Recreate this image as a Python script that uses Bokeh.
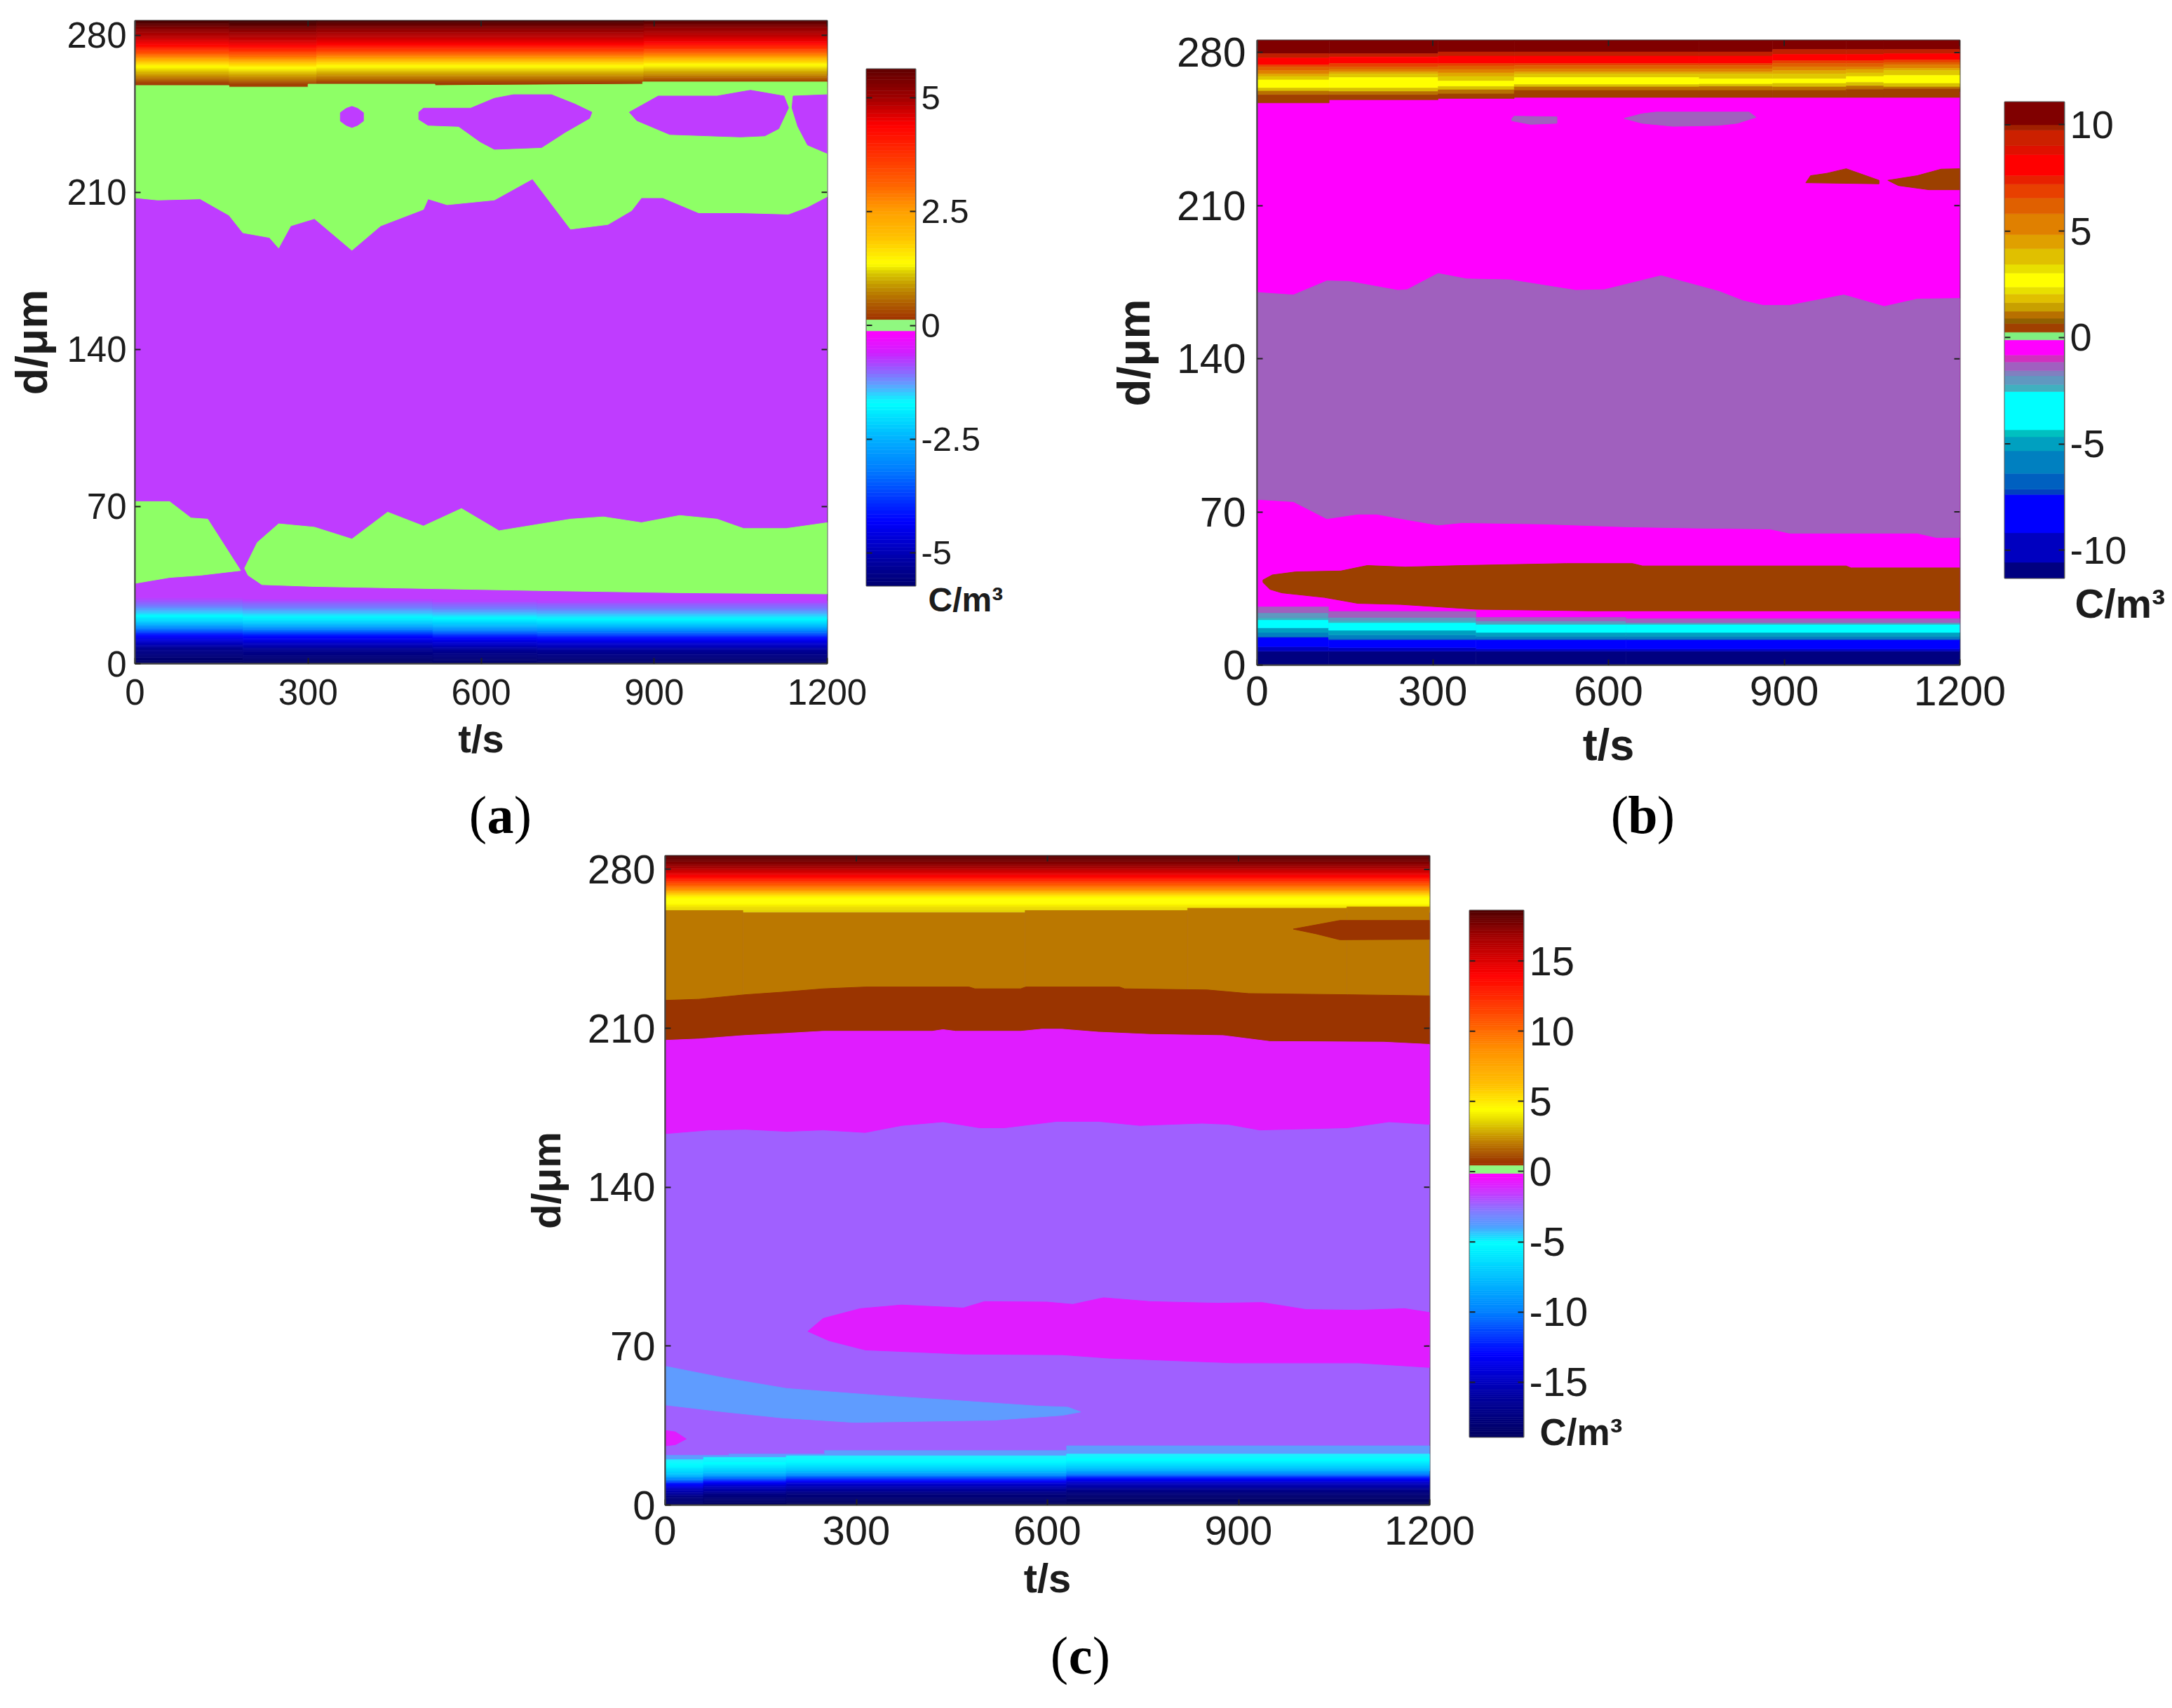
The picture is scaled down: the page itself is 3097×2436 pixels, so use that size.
from bokeh.plotting import figure
from bokeh.models import Range1d, FixedTicker
from bokeh.core.properties import value
from bokeh.embed import file_html
from bokeh.resources import INLINE

# ---------- shared ----------
t_ticks = [0, 300, 600, 900, 1200]
d_ticks = [0, 70, 140, 210, 280]
FONT = "Liberation Sans"
SERIF = "Liberation Serif"
INK = "#1c1c1c"
unit_text = "C/m³"

# ---------- panel (a) ----------
a_violet = "#BF3CFF"
a_green = "#8EFF66"
a_top_d = [256, 258.7, 260.5, 263.5, 266, 269.6, 271.6, 275.8, 279, 282.5, 286.7, 290]
a_top_c = ["#a04000", "#a04000", "#b87000", "#d8b400", "#ffff00", "#ffa000", "#ff6000", "#ff0000",
           "#c00000", "#900000", "#400000", "#300000"]
a_top_seg = [0, 163, 315, 882, 1200]
a_top_shift = [0.0, -0.5, 0.2, 0.8]
a_bot_d = [-2, 0, 6, 11.8, 15, 17.5, 20.7, 22.7, 24.8, 26.9, 28.5]
a_bot_c = ["#000060", "#000068", "#000090", "#0000ff", "#0080ff", "#00c0ff", "#00ffff", "#40c0ff",
           "#7080ff", "#9060ff", "#BF3CFF"]
a_bot_seg = [0, 187, 516, 697, 1200]
a_bot_shift = [0.7, 0.2, -0.2, -0.5]

a_green_top_t = [0, 163, 163, 300, 300, 520, 520, 880, 880, 1200]
a_green_top_d = [257.6, 257.6, 256.9, 256.9, 258.2, 258.2, 257.6, 258.2, 259.2, 259.2]
a_upper_t = [0, 39, 113, 163, 187, 233, 249, 270, 311, 376, 426, 500, 508, 541, 623, 689, 755, 820, 861,
             878, 915, 977, 1050, 1133, 1166, 1200]
a_upper_d = [207.6, 206.6, 207.1, 199.8, 192, 189.9, 185.2, 195.1, 198.3, 184.2, 195.1, 202.4, 207.1, 204.5,
             206.6, 216, 193.6, 195.7, 201.9, 207.6, 207.6, 200.9, 200.9, 200.3, 203.5, 208.1]
a_blob1_t = [376, 386, 396, 396, 386, 376, 366, 356, 356, 366]
a_blob1_d = [248.3, 247.4, 245.5, 241.8, 239.9, 238.9, 239.9, 241.8, 245.5, 247.4]
a_blob2_t = [492, 500, 582, 623, 656, 722, 763, 792, 788, 746, 705, 623, 598, 561, 508, 492]
a_blob2_d = [245.7, 247.5, 247.5, 251.9, 253.5, 253.5, 249.3, 245.7, 243, 236.8, 230, 229.2, 232.6, 239.4,
             239.9, 242.5]
a_blob3_t = [857, 907, 1009, 1067, 1125, 1133, 1116, 1092, 1050, 927, 870]
a_blob3_d = [245.7, 252.9, 252.9, 255.5, 252.9, 247.7, 238.4, 235.2, 234.7, 235.8, 242]
a_blob4_t = [1141, 1200, 1200, 1166, 1149, 1139]
a_blob4_d = [252.9, 253.5, 227.4, 231.1, 239.4, 247.7]
a_low1_t = [0, 60, 97, 126, 183, 113, 60, 0]
a_low1_d = [72.2, 72.2, 64.9, 64.4, 41.5, 39.4, 38.4, 35.8]
a_low2_t = [190, 212, 249, 311, 376, 438, 500, 566, 631, 755, 812, 878, 944, 1009, 1055, 1129, 1200,
            1200, 944, 697, 520, 311, 220, 196]
a_low2_d = [42.5, 54, 62.3, 60.8, 55.5, 67.5, 61.3, 69.1, 59.2, 64.4, 65.4, 62.8, 66, 64.4, 60.2, 60.2, 62.8,
            31.1, 31.6, 32.6, 33.4, 34.4, 35.2, 39.4]

cb_a_v = [-5.72, -5.2, -4.3, -3.13, -2.5, -1.7, -1.3, -0.9, -0.6, -0.12]
cb_a_c = ["#000070", "#0000a0", "#0000ff", "#0080ff", "#00b0ff", "#00ffff", "#60a0ff", "#a050ff", "#d020ff", "#ff00ff"]
cb_a_pv = [0.12, 0.5, 0.83, 1.15, 1.35, 1.95, 2.5, 3.13, 4.4, 5.0, 5.63]
cb_a_pc = ["#a03000", "#b06000", "#c09000", "#d8c800", "#ffff00", "#ffc000", "#ffa000", "#ff6000", "#ff0000", "#a00000", "#600000"]
cb_a_ticks = [-5, -2.5, 0, 2.5, 5]
cb_a_labels = ["-5", "-2.5", "0", "2.5", "5"]

# ---------- panel (b) ----------
b_magenta = "#FF00FF"
b_gray = "#A060BE"
b_brown = "#9C4000"
b_top_c = ["#800000", "#c02000", "#ff0000", "#e84000", "#e06000", "#e08000", "#e0a800", "#e0c800", "#ffff00",
           "#d8c000", "#b87000", "#a04000"]
b_top_seg = [0, 123, 309, 439, 755, 880, 1006, 1070, 1200]
b_top_edges = [
    [279.5, 277.6, 274.4, 273.4, 271.8, 270.2, 269.1, 267.5, 263.8, 262.4, 260.6, 257.0],
    [279.5, 278.0, 275.0, 273.4, 272.3, 271.2, 270.2, 268.6, 263.8, 262.2, 260.6, 258.4],
    [280.3, 278.4, 275.0, 273.9, 272.3, 270.7, 269.1, 267.0, 264.5, 263.0, 261.1, 259.0],
    [280.3, 278.4, 275.0, 274.1, 272.6, 271.2, 270.2, 268.6, 265.4, 264.3, 262.7, 259.5],
    [280.3, 278.4, 275.0, 274.1, 272.6, 271.2, 270.2, 268.0, 265.6, 264.5, 262.7, 259.5],
    [281.4, 279.2, 276.3, 275.0, 273.4, 271.8, 270.2, 268.0, 265.9, 264.3, 262.7, 259.5],
    [281.4, 279.2, 276.3, 275.0, 273.4, 272.3, 270.7, 269.1, 266.4, 264.8, 263.2, 259.5],
    [281.4, 279.5, 276.6, 275.5, 274.4, 272.8, 271.8, 269.6, 265.9, 264.3, 263.4, 259.5],
]
b_bot_c = ["#000080", "#0000c0", "#0000ff", "#0060c0", "#0080c0", "#00a0c0", "#00ffff", "#40b0c0", "#6098c0", "#A060BE"]
b_bot_seg = [0, 122, 374, 630, 1200]
b_bot_edges = [
    [6.3, 8.4, 12.7, 13.2, 14.9, 17.0, 20.7, 21.8, 23.9, 26.6],
    [6.3, 7.9, 11.6, 12.2, 13.8, 15.9, 19.4, 20.5, 21.8, 24.5],
    [6.3, 7.4, 11.6, 12.2, 13.2, 14.9, 18.6, 19.1, 20.2, 21.8],
    [6.3, 7.4, 11.6, 12.2, 13.2, 14.9, 18.6, 19.1, 19.4, 21.2],
]
b_upper_t = [0, 62, 119, 156, 240, 256, 309, 358, 431, 544, 593, 690, 789, 830, 864, 909, 1002, 1071, 1127, 1200]
b_upper_d = [170.3, 169.2, 175.6, 175.4, 171.3, 171.6, 179, 176.5, 176.1, 171.3, 171.6, 178, 170.8, 166.5, 164.4,
             164.4, 169.2, 163.9, 167.3, 167.6]
b_lower_t = [0, 62, 119, 172, 204, 240, 309, 350, 487, 629, 755, 876, 909, 1127, 1160, 1200]
b_lower_d = [75.75, 74.7, 66.9, 69, 69, 67.2, 64, 65.1, 64.5, 63.2, 62.6, 62.2, 60.3, 60.3, 58.3, 58.3]
b_band_up_t = [10, 26, 66, 143, 188, 253, 350, 528, 641, 658, 1006, 1014, 1200]
b_band_up_d = [38.9, 41.2, 42.6, 43, 45.5, 44.8, 45.5, 46.4, 46.4, 45.3, 45.3, 44.4, 44.4]
b_band_lo_t = [10, 22, 42, 115, 172, 245, 374, 568, 1200]
b_band_lo_d = [37.8, 34.6, 33, 30.9, 28.2, 27.7, 25.5, 24.8, 24.8]
b_gb1_t = [435, 439, 512, 512, 467, 435]
b_gb1_d = [249.9, 250.9, 250.6, 247.7, 247.2, 248.8]
b_gb2_t = [627, 657, 682, 840, 852, 820, 787, 710, 657]
b_gb2_d = [249.9, 252, 252.8, 252.8, 250.4, 247.7, 246.7, 246.3, 247.7]
b_bb1_t = [937, 945, 973, 1006, 1062, 1062]
b_bb1_d = [220.5, 223.7, 224.8, 226.9, 221.6, 220]
b_bb2_t = [1077, 1127, 1168, 1200, 1200, 1147, 1095]
b_bb2_d = [221.6, 223.7, 226.7, 226.9, 217.3, 217.3, 219.2]

cb_b_edges = [-11.31, -10.57, -9.18, -7.38, -7.13, -6.39, -5.33, -4.67, -4.34, -2.54, -2.21, -1.8, -1.56, -1.15, -0.82,
              -0.11, 0.25, 0.66, 0.9, 1.23, 1.64, 2.05, 2.38, 3.03, 3.44, 4.18, 4.84, 5.82, 6.56, 7.21, 7.62, 8.6, 9.02,
              9.75, 10, 11.07]
cb_b_colors = ["#000080", "#0000c0", "#0000ff", "#0040c0", "#0060c0", "#0080c0", "#00a0c0", "#00c0c0", "#00ffff",
               "#40b0c0", "#6098c0", "#8080c0", "#a060c0", "#d030c0", "#ff00ff", "#80f080", "#a04000", "#906000",
               "#b87000", "#c8a000", "#e0c000", "#e8e000", "#ffff00", "#e8e000", "#e0c000", "#e0a000", "#e08000",
               "#e06000", "#e84000", "#e82000", "#ff0000", "#e01000", "#cc2000", "#a02000", "#800000"]
cb_b_ticks = [-10, -5, 0, 5, 10]
cb_b_labels = ["-10", "-5", "0", "5", "10"]

# ---------- panel (c) ----------
c_violet = "#A060FF"
c_magenta = "#E01CFF"
c_gold = "#BB7800"
c_brown = "#9A3400"
c_blue = "#5F9CFF"
c_top_d = [261, 263.5, 265, 267.6, 271.7, 276.9, 282, 286.5, 290]
c_top_c = ["#e0d000", "#f0e000", "#ffff00", "#ffff00", "#ff8000", "#ff0000", "#900000", "#500000", "#400000"]
c_bot_d = [-2, 0, 6, 9.6, 11.6, 13.7, 15.8, 19.9, 22.5]
c_bot_c = ["#000050", "#000058", "#000080", "#0000c0", "#0000ff", "#0080ff", "#00c0ff", "#00ffff", "#20f0ff"]
c_bot_seg = [0, 60, 190, 630, 1200]
c_bot_shift = [-2.5, -1.5, -0.8, 0.0]
c_blue_seg = [0, 100, 250, 630, 1200]
c_blue_top = [21.9, 22.5, 24.0, 26.1]
c_gold_seg = [0, 122, 565, 820, 1070, 1200]
c_gold_top = [261.9, 260.9, 261.9, 262.9, 263.5]
c_gl_t = [0, 53, 126, 183, 248, 314, 477, 486, 558, 566, 713, 721, 851, 916, 1071, 1200]
c_gl_d = [222.3, 222.8, 224.8, 225.9, 227.4, 228.2, 228.2, 227.4, 227.4, 228.2, 228.2, 227.4, 226.9, 225.3, 224.8, 224.3]
c_bl_t = [0, 53, 122, 191, 248, 419, 436, 456, 558, 591, 623, 680, 762, 876, 949, 1128, 1200]
c_bl_d = [204.7, 205.3, 206.8, 207.8, 208.7, 208.7, 209.4, 208.7, 208.7, 209.6, 209.6, 208.3, 207.3, 206.8, 204.2, 203.9, 202.9]
c_mv_t = [0, 69, 126, 191, 248, 314, 371, 436, 493, 533, 615, 680, 745, 843, 884, 933, 1071, 1136, 1200]
c_mv_d = [163.6, 165.2, 165.5, 164.6, 165.2, 164.1, 167.2, 168.8, 166.2, 166.2, 169, 169, 167.2, 168.2, 167.7, 165.2,
          166.2, 168.8, 167.7]
c_tip_t = [986, 1059, 1200, 1200, 1059, 1022]
c_tip_d = [253.7, 257.5, 257.5, 249.2, 249, 251.6]
c_lobe_t = [224, 248, 306, 371, 468, 501, 599, 640, 688, 762, 868, 937, 1006, 1088, 1161, 1200, 1200, 1088, 892, 696,
            623, 468, 314, 257]
c_lobe_d = [76.5, 82.2, 86.5, 88.1, 86.8, 89.6, 89.4, 88.4, 91.3, 89.6, 88.9, 89.2, 86.1, 85.8, 86.5, 84.8, 60.6, 62.6,
            62.6, 64.7, 66.2, 66.5, 68.3, 72.4]
c_tongue_t = [0, 94, 191, 338, 452, 583, 632, 652, 623, 517, 297, 183, 94, 0]
c_tongue_d = [61.1, 55.9, 51.3, 48.2, 46.1, 43.6, 43.1, 41, 39.5, 37.4, 36.4, 38.4, 41, 44.1]
c_spot_t = [0, 16, 33, 16, 0]
c_spot_d = [32.8, 32.2, 29.1, 26.6, 26.1]

cb_c_v = [-18.9, -16, -13, -10, -7.5, -5.06, -3.9, -2.9, -1.65, -0.13]
cb_c_c = ["#000060", "#0000a0", "#0000ff", "#0080ff", "#00c0ff", "#00ffff", "#50a0ff", "#8080ff", "#c040ff", "#ff00ff"]
cb_c_pv = [0.43, 0.9, 2.15, 3.5, 4.4, 6.2, 8.7, 11, 14, 16.8, 18.6]
cb_c_pc = ["#a03000", "#a04000", "#c08000", "#e0d000", "#ffff00", "#ffc000", "#ff9000", "#ff5000", "#ff0000", "#a00000", "#500000"]
cb_c_ticks = [-15, -10, -5, 0, 5, 10, 15]
cb_c_labels = ["-15", "-10", "-5", "0", "5", "10", "15"]
cb_green = "#90F880"


# ---------- helpers ----------
def hex2rgb(h):
    return [int(h[i:i + 2], 16) for i in (1, 3, 5)]


def ramp_bands(vals, cols, step):
    """Split a colour gradient given by its stops into thin flat bands (like a contour fill)."""
    out = []
    for i in range(len(vals) - 1):
        n = max(1, int(round((vals[i + 1] - vals[i]) / step)))
        c0, c1 = hex2rgb(cols[i]), hex2rgb(cols[i + 1])
        for k in range(n):
            f = (k + 0.5) / n
            col = "#%02x%02x%02x" % tuple(int(round(a + (b - a) * f)) for a, b in zip(c0, c1))
            out.append((vals[i] + (vals[i + 1] - vals[i]) * k / n, vals[i] + (vals[i + 1] - vals[i]) * (k + 1) / n, col))
    return out


def draw_quads(p, rows):
    left, right, bottom, top, color = zip(*rows)
    p.quad(left=list(left), right=list(right), bottom=list(bottom), top=list(top),
           fill_color=list(color), line_color=list(color), line_width=0.6)


def draw_ramp(p, seg, shifts, vals, cols, step=0.7):
    bands = ramp_bands(vals, cols, step)
    rows = []
    for i, s in enumerate(shifts):
        for lo, hi, c in bands:
            rows.append((seg[i], seg[i + 1], lo + s, hi + s, c))
    draw_quads(p, rows)


def panel(left, top, tmax_d, frame_w, frame_h, borders, tick_font, xlabel_font, ylabel_font, xstand, ystand):
    bl, br, bt, bb = borders
    p = figure(frame_width=frame_w, frame_height=frame_h, x_range=Range1d(0, 1200), y_range=Range1d(0, tmax_d),
               min_border_left=bl, min_border_right=br, min_border_top=bt, min_border_bottom=bb,
               toolbar_location=None, output_backend="svg", background_fill_color="white", border_fill_color=None,
               x_axis_label="t/s", y_axis_label="d/μm",
               styles={"position": "absolute", "left": f"{left}px", "top": f"{top}px"})
    p.grid.visible = False
    p.outline_line_color = "#444444"
    p.outline_line_width = 2
    p.xaxis.ticker = FixedTicker(ticks=t_ticks)
    p.yaxis.ticker = FixedTicker(ticks=d_ticks)
    for ax in (p.xaxis[0], p.yaxis[0]):
        ax.major_tick_in = 8
        ax.major_tick_out = 0
        ax.minor_tick_in = 0
        ax.minor_tick_out = 0
        ax.major_tick_line_color = "#222222"
        ax.major_tick_line_width = 2
        ax.axis_line_color = "#444444"
        ax.axis_line_width = 2
        ax.major_label_text_font = FONT
        ax.major_label_text_font_size = f"{tick_font}px"
        ax.major_label_text_color = INK
        ax.axis_label_text_font = FONT
        ax.axis_label_text_font_style = "bold"
        ax.axis_label_text_color = INK
    p.xaxis[0].axis_label_text_font_size = f"{xlabel_font}px"
    p.yaxis[0].axis_label_text_font_size = f"{ylabel_font}px"
    p.xaxis[0].major_label_standoff = xstand[0]
    p.xaxis[0].axis_label_standoff = xstand[1]
    p.yaxis[0].major_label_standoff = ystand[0]
    p.yaxis[0].axis_label_standoff = ystand[1]
    return p


def box_ticks(p, tmax_d, frame_w, frame_h):
    dt = 8 * 1200 / frame_w
    dd = 8 * tmax_d / frame_h
    p.segment(x0=t_ticks, x1=t_ticks, y0=[tmax_d] * 5, y1=[tmax_d - dd] * 5, line_color="#222222", line_width=2)
    p.segment(x0=[1200] * 5, x1=[1200 - dt] * 5, y0=d_ticks, y1=d_ticks, line_color="#222222", line_width=2)


def colorbar(left_px, top_px, vmin, vmax, frame_w, frame_h, borders, ticks, labels, font, standoff):
    bl, br, bt, bb = borders
    p = figure(frame_width=frame_w, frame_height=frame_h, x_range=Range1d(0, 1), y_range=Range1d(vmin, vmax),
               min_border_left=bl, min_border_right=br, min_border_top=bt, min_border_bottom=bb,
               toolbar_location=None, output_backend="svg", x_axis_location=None, y_axis_location="right",
               background_fill_color="white", border_fill_color=None,
               styles={"position": "absolute", "left": f"{left_px}px", "top": f"{top_px}px"})
    p.grid.visible = False
    p.outline_line_color = "#555555"
    p.outline_line_width = 2
    ax = p.yaxis[0]
    ax.ticker = FixedTicker(ticks=ticks)
    ax.major_label_overrides = {float(v): s for v, s in zip(ticks, labels)}
    ax.major_tick_in = 8
    ax.major_tick_out = 0
    ax.minor_tick_in = 0
    ax.minor_tick_out = 0
    ax.major_tick_line_color = "#222222"
    ax.major_tick_line_width = 2
    ax.axis_line_color = "#555555"
    ax.major_label_text_font = FONT
    ax.major_label_text_font_size = f"{font}px"
    ax.major_label_text_color = INK
    ax.major_label_standoff = standoff
    return p


def cb_left_ticks(p, ticks, frame_w):
    p.segment(x0=[0] * len(ticks), x1=[8 / frame_w] * len(ticks), y0=ticks, y1=ticks, line_color="#222222", line_width=2)


def text_box(left, top, w, h):
    """A bare little figure that only carries free-standing texts (its units are pixels)."""
    return figure(frame_width=w, frame_height=h, x_range=Range1d(0, w), y_range=Range1d(h, 0),
                  min_border=0, toolbar_location=None, output_backend="svg", x_axis_location=None, y_axis_location=None,
                  background_fill_color=None, border_fill_color=None, outline_line_color=None,
                  styles={"position": "absolute", "left": f"{left}px", "top": f"{top}px"})


def caption_box(cx, cy, letter, size, gap):
    p = text_box(cx - 70, cy - 60, 140, 120)
    p.grid.visible = False
    for txt, style, off in (("(", "normal", -gap), (letter, "bold", 0), (")", "normal", gap)):
        p.text(x=[70 + off], y=[60], text=[txt], text_font=value(SERIF), text_font_style=style,
               text_font_size=f"{size}px", text_color="#000000", text_align="center", text_baseline="middle")
    return p


def unit_box(x, cy, size):
    p = text_box(x - 2, cy - 60, 138, 120)
    p.grid.visible = False
    p.text(x=[2], y=[60], text=[unit_text], text_font=value(FONT), text_font_style="bold",
           text_font_size=f"{size}px", text_color=INK, text_align="left", text_baseline="middle")
    return p


def band_poly(p, color, tu, du, tl, dl):
    p.patch(list(tu) + list(tl)[::-1], list(du) + list(dl)[::-1], fill_color=color, line_color=color, line_width=1)


def blob(p, color, t, d):
    p.patch(t, d, fill_color=color, line_color=color, line_width=1)


# ---------- figure (a) ----------
fa = panel(-32, 8, 286.5, 987, 917, (224, 70, 21, 254), 51, 56, 63, (22, 14), (12, 12))
draw_quads(fa, [(0, 1200, 20, 262, a_violet)])
draw_ramp(fa, a_bot_seg, a_bot_shift, a_bot_d, a_bot_c)
draw_ramp(fa, a_top_seg, a_top_shift, a_top_d, a_top_c)
band_poly(fa, a_green, a_green_top_t, a_green_top_d, a_upper_t, a_upper_d)
for t, d in ((a_blob1_t, a_blob1_d), (a_blob2_t, a_blob2_d), (a_blob3_t, a_blob3_d), (a_blob4_t, a_blob4_d)):
    blob(fa, a_violet, t, d)
blob(fa, a_green, a_low1_t, a_low1_d)
blob(fa, a_green, a_low2_t, a_low2_d)
box_ticks(fa, 286.5, 987, 917)
cap_a = caption_box(713, 1161, "a", 76, 32)

cba = colorbar(1200, 8, -5.72, 5.63, 70, 737, (35, 255, 90, 365), cb_a_ticks, cb_a_labels, 49, 8)
draw_ramp(cba, [0, 1], [0.0], cb_a_v, cb_a_c, step=0.08)
draw_ramp(cba, [0, 1], [0.0], cb_a_pv, cb_a_pc, step=0.08)
draw_quads(cba, [(0, 1, -0.12, 0.12, cb_green)])
cb_left_ticks(cba, cb_a_ticks, 70)
unit_a = unit_box(1323, 855, 48)

# ---------- figure (b) ----------
fb = panel(1560, 8, 285.6, 1002, 891, (232, 70, 49, 252), 59, 63, 64, (16, 18), (16, 22))
draw_quads(fb, [(0, 1200, 15, 262, b_magenta)])
rows = []
for i in range(len(b_top_seg) - 1):
    upper = 290
    for c, e in zip(b_top_c, b_top_edges[i]):
        rows.append((b_top_seg[i], b_top_seg[i + 1], e, upper, c))
        upper = e
draw_quads(fb, rows)
rows = []
for i in range(len(b_bot_seg) - 1):
    lower = -2
    for c, e in zip(b_bot_c, b_bot_edges[i]):
        rows.append((b_bot_seg[i], b_bot_seg[i + 1], lower, e, c))
        lower = e
draw_quads(fb, rows)
band_poly(fb, b_gray, b_upper_t, b_upper_d, b_lower_t, b_lower_d)
band_poly(fb, b_brown, b_band_up_t, b_band_up_d, b_band_lo_t, b_band_lo_d)
blob(fb, b_gray, b_gb1_t, b_gb1_d)
blob(fb, b_gray, b_gb2_t, b_gb2_d)
blob(fb, b_brown, b_bb1_t, b_bb1_d)
blob(fb, b_brown, b_bb2_t, b_bb2_d)
box_ticks(fb, 285.6, 1002, 891)
cap_b = caption_box(2342, 1161, "b", 76, 33)

cbb = colorbar(2820, 8, -11.31, 11.07, 85, 679, (38, 152, 137, 376), cb_b_ticks, cb_b_labels, 56, 8)
draw_quads(cbb, [(0, 1, cb_b_edges[i], cb_b_edges[i + 1], cb_b_colors[i]) for i in range(len(cb_b_colors))])
cb_left_ticks(cbb, cb_b_ticks, 85)
unit_b = unit_box(2958, 860, 58)

# ---------- figure (c) ----------
fc = panel(700, 1200, 286, 1090, 926, (248, 70, 20, 284), 58, 58, 58, (16, 12), (14, 24))
draw_quads(fc, [(0, 1200, 15, 262, c_violet)])
draw_quads(fc, [(c_blue_seg[i], c_blue_seg[i + 1], 15, c_blue_top[i], c_blue) for i in range(len(c_blue_top))])
draw_ramp(fc, c_bot_seg, c_bot_shift, c_bot_d, c_bot_c)
draw_ramp(fc, [0, 1200], [0.0], c_top_d, c_top_c)
draw_quads(fc, [(c_gold_seg[i], c_gold_seg[i + 1], 215, c_gold_top[i], c_gold) for i in range(len(c_gold_top))])
band_poly(fc, c_brown, c_gl_t, c_gl_d, c_bl_t, c_bl_d)
band_poly(fc, c_magenta, c_bl_t, c_bl_d, c_mv_t, c_mv_d)
blob(fc, c_brown, c_tip_t, c_tip_d)
blob(fc, c_magenta, c_lobe_t, c_lobe_d)
blob(fc, c_blue, c_tongue_t, c_tongue_d)
blob(fc, c_magenta, c_spot_t, c_spot_d)
box_ticks(fc, 286, 1090, 926)
cap_c = caption_box(1540, 2360, "c", 76, 30)

cbc = colorbar(2060, 1200, -18.9, 18.6, 77, 751, (35, 328, 98, 381), cb_c_ticks, cb_c_labels, 58, 8)
draw_ramp(cbc, [0, 1], [0.0], cb_c_v, cb_c_c, step=0.14)
draw_ramp(cbc, [0, 1], [0.0], cb_c_pv, cb_c_pc, step=0.14)
draw_quads(cbc, [(0, 1, -0.13, 0.43, cb_green)])
cb_left_ticks(cbc, cb_c_ticks, 77)
unit_c = unit_box(2195, 2042, 53)

# ---------- page ----------
open("out.html", "w").write(file_html([fa, cba, fb, cbb, fc, cbc, cap_a, cap_b, cap_c, unit_a, unit_b, unit_c], INLINE))
